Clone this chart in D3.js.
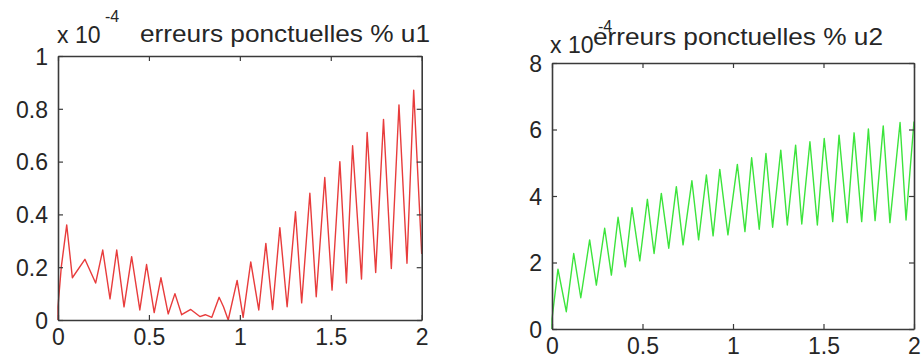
<!DOCTYPE html>
<html>
<head>
<meta charset="utf-8">
<script src="https://cdn.jsdelivr.net/npm/d3@7"></script>
<style>
  body { margin: 0; background: #fff; }
  svg { display: block; }
  .tick text { font-family: "Liberation Sans", Arial, sans-serif; fill: #262626; }
</style>
</head>
<body>
<div id="chart"></div>
<script>
// erreurs ponctuelles u1 (x 1e-4)
const u1X = [0, 0.0, 0.018, 0.048, 0.079, 0.148, 0.207, 0.246, 0.286, 0.323, 0.363, 0.405, 0.45, 0.487,
  0.529, 0.566, 0.606, 0.643, 0.68, 0.73, 0.78, 0.81, 0.846, 0.886, 0.91, 0.936, 0.985, 1.018, 1.06,
  1.104, 1.143, 1.18, 1.22, 1.26, 1.306, 1.34, 1.385, 1.42, 1.467, 1.507, 1.55, 1.586, 1.62, 1.669,
  1.70, 1.747, 1.79, 1.833, 1.875, 1.919, 1.956, 2.0];
const u1Y = [0, 0.05, 0.2, 0.36, 0.16, 0.23, 0.14, 0.265, 0.08, 0.265, 0.05, 0.24, 0.038, 0.21,
  0.028, 0.16, 0.023, 0.10, 0.02, 0.04, 0.013, 0.02, 0.01, 0.086, 0.05, 0.0, 0.15, 0.01, 0.22,
  0.038, 0.29, 0.04, 0.35, 0.05, 0.41, 0.065, 0.48, 0.088, 0.54, 0.113, 0.60, 0.14, 0.66, 0.155,
  0.71, 0.18, 0.76, 0.195, 0.815, 0.215, 0.87, 0.25];

// erreurs ponctuelles u2 (x 1e-4)
const u2X = [0, 0.0, 0.033, 0.079, 0.12, 0.159, 0.208, 0.245, 0.291, 0.328, 0.365, 0.405, 0.442, 0.485,
  0.527, 0.564, 0.604, 0.645, 0.687, 0.724, 0.773, 0.81, 0.853, 0.89, 0.927, 0.972, 1.024, 1.066,
  1.103, 1.145, 1.182, 1.219, 1.264, 1.3, 1.346, 1.38, 1.425, 1.466, 1.504, 1.551, 1.586, 1.631,
  1.669, 1.711, 1.748, 1.785, 1.83, 1.867, 1.923, 1.956, 2.0];
const u2Y = [0, 0.3, 1.8, 0.52, 2.27, 0.94, 2.68, 1.32, 3.03, 1.62, 3.36, 1.87, 3.65, 2.05,
  3.90, 2.27, 4.08, 2.43, 4.28, 2.53, 4.46, 2.68, 4.63, 2.8, 4.80, 2.83, 4.95, 2.93,
  5.15, 3.0, 5.28, 3.06, 5.38, 3.13, 5.53, 3.16, 5.63, 3.13, 5.73, 3.23, 5.83, 3.2,
  5.9, 3.23, 6.02, 3.26, 6.11, 3.2, 6.21, 3.28, 6.24];

const xTicks = [0, 0.5, 1, 1.5, 2];
const u1YTicks = [0, 0.2, 0.4, 0.6, 0.8, 1];
const u2YTicks = [0, 2, 4, 6, 8];
const titles = ['erreurs ponctuelles % u1', 'erreurs ponctuelles % u2'];

const W = 922, H = 362;
const svg = d3.select('#chart').append('svg')
  .attr('width', W).attr('height', H);

function drawPanel(opts) {
  const x = d3.scaleLinear().domain([0, 2]).range(opts.xRange);
  const y = d3.scaleLinear().domain(opts.yDomain).range(opts.yRange);
  const g = svg.append('g');

  // the curve
  const pts = opts.xs.map((v, i) => [v, opts.ys[i]]);
  g.append('path')
    .datum(pts)
    .attr('fill', 'none')
    .attr('stroke', opts.color)
    .attr('stroke-width', 1.4)
    .attr('stroke-linejoin', 'round')
    .attr('d', d3.line().x(d => x(d[0])).y(d => y(d[1])));

  // axes, ticks inward like matlab
  const fmt = d => String(d);
  const bottom = g.append('g').attr('transform', `translate(0,${opts.yRange[0]})`)
    .call(d3.axisBottom(x).tickValues(xTicks).tickFormat(fmt).tickSizeInner(-5).tickSizeOuter(0).tickPadding(12));
  const left = g.append('g').attr('transform', `translate(${opts.xRange[0]},0)`)
    .call(d3.axisLeft(y).tickValues(opts.yTicks).tickFormat(fmt).tickSizeInner(-5).tickSizeOuter(0).tickPadding(10));
  const top = g.append('g').attr('transform', `translate(0,${opts.yRange[1]})`)
    .call(d3.axisTop(x).tickValues(xTicks).tickFormat('').tickSizeInner(-5).tickSizeOuter(0));
  const right = g.append('g').attr('transform', `translate(${opts.xRange[1]},0)`)
    .call(d3.axisRight(y).tickValues(opts.yTicks).tickFormat('').tickSizeInner(-5).tickSizeOuter(0));

  [bottom, left, top, right].forEach(a => {
    a.selectAll('.domain').attr('stroke', '#3a3a3a').attr('stroke-width', 1.6);
    a.selectAll('.tick line').attr('stroke', '#3a3a3a').attr('stroke-width', 1.2);
    a.selectAll('.tick text').attr('font-size', 23);
  });
  bottom.selectAll('.tick text').attr('dy', '0.55em');
  left.selectAll('.tick text').attr('dy', '0.36em');

  // exponent label
  g.append('text')
    .attr('x', opts.expX).attr('y', opts.expY)
    .attr('font-family', '"Liberation Sans", Arial, sans-serif')
    .attr('font-size', 23).attr('fill', '#262626')
    .text('x 10');
  g.append('text')
    .attr('x', opts.expX + 48).attr('y', opts.expY - 21)
    .attr('font-family', '"Liberation Sans", Arial, sans-serif')
    .attr('font-size', 16).attr('fill', '#262626')
    .text('-4');

  // title
  g.append('text')
    .attr('x', opts.titleX).attr('y', opts.titleY)
    .attr('font-family', '"Liberation Sans", Arial, sans-serif')
    .attr('font-size', 24).attr('fill', '#262626')
    .attr('textLength', 290).attr('lengthAdjust', 'spacingAndGlyphs')
    .text(opts.title);
}

drawPanel({
  xs: u1X, ys: u1Y, color: '#e83c3c',
  xRange: [58, 421.7], yDomain: [0, 1], yRange: [320, 56], yTicks: u1YTicks,
  expX: 57, expY: 43, titleX: 140, titleY: 42, title: titles[0]
});

drawPanel({
  xs: u2X, ys: u2Y, color: '#3ce43c',
  xRange: [552, 914], yDomain: [0, 8], yRange: [329, 63], yTicks: u2YTicks,
  expX: 550, expY: 53, titleX: 593, titleY: 45, title: titles[1]
});
</script>
</body>
</html>
